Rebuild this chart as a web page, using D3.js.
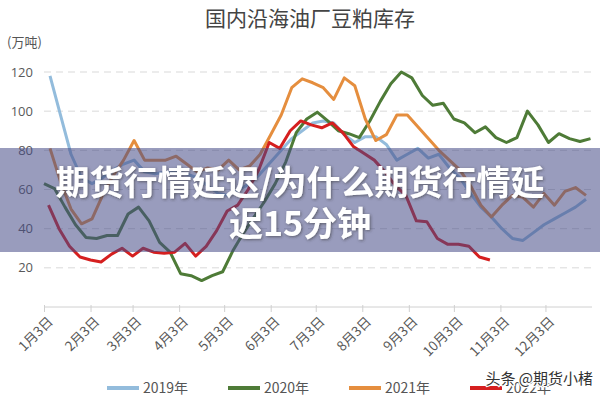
<!DOCTYPE html>
<html>
<head>
<meta charset="utf-8">
<script src="https://cdn.jsdelivr.net/npm/d3@7"></script>
<style>
  body { margin: 0; background: #fff; }
  svg { display: block; font-family: "Open Sans", "Noto Sans CJK SC", sans-serif; }
</style>
</head>
<body>
<div id="chart"></div>
<script>
// the data (weekly points, 万吨)
const years = ["2019年", "2020年", "2021年", "2022年"];
const colors = ["#93bcdc", "#4e7b37", "#e58e3e", "#d51f1f"];
const startDays = ["2019-01-07", "2019-01-03", "2019-01-07", "2019-01-06"]; // first point of each year, on a common calendar
const months = [1, 2, 3, 4, 5, 6, 7, 8, 9, 10, 11, 12];
const yTicks = [20, 40, 60, 80, 100, 120];

const v2019 = [118, 98, 78, 66, 63, 66, 70, 73, 75, 69, 68, 69, 69, 68, 66, 62, 58, 57, 60, 63,
  68, 74, 80, 86, 90, 94, 95, 94, 88, 84, 87, 87, 83, 75, 78, 81, 76, 78, 71, 66,
  58, 51, 46, 40, 35, 34, 38, 42, 45, 48, 51, 55];
const v2020 = [63, 60.5, 51, 42, 35.5, 35, 36.5, 36.5, 47.5, 51, 44, 33, 28, 17, 16, 13.5, 16, 18, 29, 38,
  46, 54, 63, 74, 89, 96, 99.5, 95, 90, 88.5, 86.5, 95, 105, 114, 120, 117, 108, 103, 104, 96,
  94, 89, 92, 86.5, 84, 86.5, 100, 93, 84, 88.5, 86, 84.5, 86];
const v2021 = [81, 64, 50, 42.5, 45, 57, 67, 75, 85, 75, 75, 75, 77, 73, 69, 71, 70, 75, 70, 72,
  78, 88, 98, 112, 116.5, 114.5, 112, 106, 117, 113, 96, 85, 88, 98, 98, 92, 86, 80, 75, 70,
  62, 52, 46, 52, 57, 56, 51, 58, 52, 59, 61, 57];
const v2022 = [52, 40, 31, 25.5, 24, 23, 27, 30, 26, 30, 28, 27.5, 28, 32.5, 26, 31, 39, 49, 52, 60,
  70, 84, 81, 90, 95, 93, 91.5, 94, 89, 82, 78.5, 75, 69, 62, 57, 44, 43.5, 35, 32, 32,
  31, 25.5, 24];
const seriesValues = [v2019, v2020, v2021, v2022];

const W = 600, H = 400;
const svg = d3.select("#chart").append("svg")
  .attr("width", W).attr("height", H);

const parse = d3.timeParse("%Y-%m-%d");
const x = d3.scaleTime()
  .domain([new Date(2019, 0, 3), new Date(2020, 0, 3)])
  .range([44, 592]);
const y = d3.scaleLinear().domain([0, 120]).range([307, 72]);

// title + unit
svg.append("text")
  .attr("x", 310).attr("y", 26)
  .attr("text-anchor", "middle")
  .attr("font-family", "Noto Sans CJK SC")
  .attr("font-size", 21).attr("fill", "#444")
  .text("国内沿海油厂豆粕库存");
svg.append("text")
  .attr("x", 7).attr("y", 47)
  .attr("font-family", "Noto Sans CJK SC")
  .attr("font-size", 13).attr("fill", "#555")
  .text("(万吨)");

// horizontal grid
svg.append("g").selectAll("line")
  .data(yTicks)
  .join("line")
    .attr("x1", 44).attr("x2", 592)
    .attr("y1", d => y(d)).attr("y2", d => y(d))
    .attr("stroke", "#d9d9d9")
    .attr("stroke-dasharray", "7,5");

svg.append("g").selectAll("text")
  .data(yTicks)
  .join("text")
    .attr("x", 33).attr("y", d => y(d))
    .attr("dy", "0.35em")
    .attr("text-anchor", "end")
    .attr("font-size", 13).attr("fill", "#595959")
    .text(d => d);

// x axis
const tickDates = months.map(m => new Date(2019, m - 1, 3));
const xAxis = svg.append("g")
  .attr("transform", `translate(0,${y(0)})`)
  .call(d3.axisBottom(x).tickValues(tickDates).tickSize(5).tickFormat(d => `${d.getMonth() + 1}月3日`));
xAxis.select(".domain").attr("stroke", "#d0d0d0").attr("d", `M44,0H592`);
xAxis.selectAll(".tick line").attr("stroke", "#d0d0d0").attr("y1", -2);
xAxis.selectAll(".tick text")
  .attr("font-family", "Noto Sans CJK SC")
  .attr("font-size", 13.5).attr("fill", "#595959")
  .attr("text-anchor", "end")
  .attr("transform", "translate(6,12) rotate(-45)")
  .attr("dy", "0.35em").attr("y", 0).attr("x", 0);

// lines
const line = d3.line()
  .x(d => x(d.date))
  .y(d => y(d.value));

seriesValues.forEach((vals, i) => {
  const start = parse(startDays[i]);
  const pts = vals.map((v, k) => ({ date: d3.timeDay.offset(start, 7 * k), value: v }));
  svg.append("path")
    .datum(pts)
    .attr("fill", "none")
    .attr("stroke", colors[i])
    .attr("stroke-width", 3)
    .attr("stroke-linejoin", "round")
    .attr("d", line);
});

// legend
const legend = svg.append("g").selectAll("g")
  .data(years)
  .join("g")
    .attr("transform", (d, i) => `translate(${107 + i * 121},388)`);
legend.append("line")
  .attr("x1", 0).attr("x2", 32)
  .attr("stroke", (d, i) => colors[i])
  .attr("stroke-width", 4);
legend.append("text")
  .attr("x", 36).attr("dy", "0.35em")
  .attr("font-family", "Noto Sans CJK SC")
  .attr("font-size", 14).attr("fill", "#555")
  .text(d => d);

// banner overlay
svg.append("rect")
  .attr("x", 0).attr("y", 148)
  .attr("width", W).attr("height", 104)
  .attr("fill", "rgb(70,75,135)")
  .attr("fill-opacity", 0.55);

const shadow = svg.append("defs").append("filter").attr("id", "sh");
shadow.append("feDropShadow")
  .attr("dx", 1).attr("dy", 1).attr("stdDeviation", 1.5)
  .attr("flood-color", "#333").attr("flood-opacity", 0.6);

const bannerLines = ["期货行情延迟/为什么期货行情延", "迟15分钟"];
svg.append("g").selectAll("text")
  .data(bannerLines)
  .join("text")
    .attr("x", 300).attr("y", (d, i) => 195 + i * 41)
    .attr("text-anchor", "middle")
    .attr("font-family", "Noto Sans CJK SC")
    .attr("font-weight", "bold")
    .attr("font-size", 34)
    .attr("fill", "#fff")
    .attr("filter", "url(#sh)")
    .text(d => d);

// watermark
svg.append("text")
  .attr("x", 593).attr("y", 384)
  .attr("text-anchor", "end")
  .attr("font-family", "Noto Sans CJK SC")
  .attr("font-size", 15)
  .attr("fill", "#333")
  .attr("stroke", "#fff").attr("stroke-width", 2.5)
  .attr("paint-order", "stroke")
  .text("头条 @期货小楮");
</script>
</body>
</html>
